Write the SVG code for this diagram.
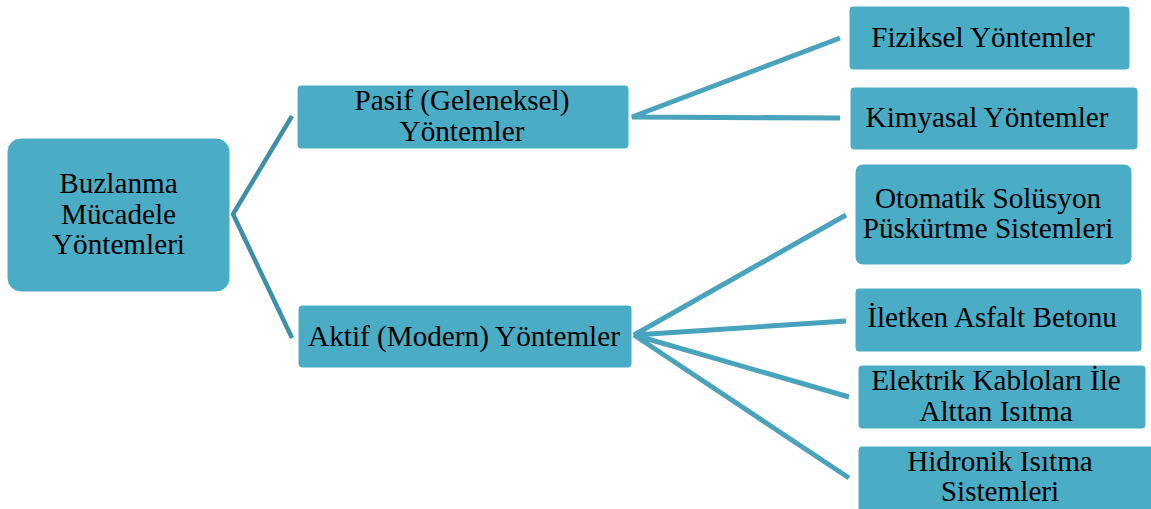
<svg xmlns="http://www.w3.org/2000/svg" width="1151" height="509" viewBox="0 0 1151 509">
<style>
.box{fill:#4BACC6;stroke:#ffffff;stroke-width:1}
.t{font-family:"Liberation Serif","Times New Roman",serif;font-size:29.2px;fill:#000;text-anchor:middle}
.c1{stroke:#3F90A7;stroke-width:4.5;fill:none;stroke-linecap:butt}
.c2{stroke:#4AA3BC;stroke-width:5;fill:none}
</style>
<rect width="1151" height="509" fill="#ffffff"/>
<g id="connectors">
<polyline class="c1" points="292,116 233,214 292,338"/>
<polyline class="c2" points="840,38 632,117 840,118"/>
<path class="c2" d="M846,215 L634,335 L846,321 M634,335 L849,397 M634,335 L849,478"/>
</g>
<g id="root"><rect class="box" x="7" y="138" width="223" height="154" rx="14"/>
<text class="t" x="118.5" y="193">Buzlanma</text><text class="t" x="118.5" y="224">Mücadele</text><text class="t" x="118.5" y="254">Yöntemleri</text></g>
<g id="pasif"><rect class="box" x="297" y="85" width="332" height="64" rx="4"/>
<text class="t" x="462" y="110">Pasif (Geleneksel)</text><text class="t" x="462" y="141">Yöntemler</text></g>
<g id="aktif"><rect class="box" x="298" y="305" width="334" height="63" rx="4"/>
<text class="t" x="464" y="346">Aktif (Modern) Yöntemler</text></g>
<g id="fiziksel"><rect class="box" x="849" y="6" width="281" height="64" rx="4"/>
<text class="t" x="983" y="47">Fiziksel Yöntemler</text></g>
<g id="kimyasal"><rect class="box" x="850" y="87" width="288" height="63" rx="4"/>
<text class="t" x="987" y="127">Kimyasal Yöntemler</text></g>
<g id="otomatik"><rect class="box" x="855" y="164" width="277" height="101" rx="8"/>
<text class="t" x="988" y="208">Otomatik Solüsyon</text><text class="t" x="988" y="238">Püskürtme Sistemleri</text></g>
<g id="iletken"><rect class="box" x="855" y="288" width="287" height="64" rx="4"/>
<text class="t" x="992" y="327">İletken Asfalt Betonu</text></g>
<g id="elektrik"><rect class="box" x="858" y="365" width="288" height="64" rx="4"/>
<text class="t" x="996" y="390">Elektrik Kabloları İle</text><text class="t" x="996" y="421">Alttan Isıtma</text></g>
<g id="hidronik"><rect class="box" x="858" y="446" width="300" height="70" rx="4"/>
<text class="t" x="1000" y="471">Hidronik Isıtma</text><text class="t" x="1000" y="501">Sistemleri</text></g>
</svg>
